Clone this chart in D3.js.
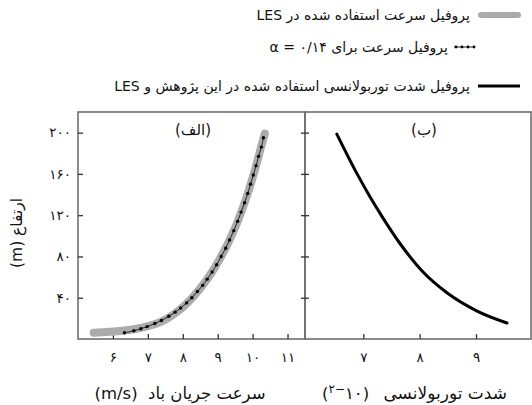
<!DOCTYPE html>
<html>
<head>
<meta charset="utf-8">
<script src="https://cdn.jsdelivr.net/npm/d3@7"></script>
<style>
  html, body { margin: 0; padding: 0; background: #fff; }
  svg { display: block; font-family: "DejaVu Sans", sans-serif; }
</style>
</head>
<body>
<svg id="chart" width="532" height="405"></svg>
<script>
// Wind speed profile used in LES (m/s vs height m)
const lesSpeed  = [5.45, 5.9, 6.4, 6.9, 7.4, 7.9, 8.3, 8.7, 9.1, 9.5, 9.8, 10.05, 10.25, 10.35];
const lesHeight = [6, 7, 8.5, 11.5, 17, 28, 41, 58, 80, 108, 135, 162, 187, 199];

// Power-law speed profile, alpha = 0.14
const powSpeed  = [6.33, 6.60, 6.80, 6.98, 7.20, 7.39, 7.60, 7.78, 7.94, 8.11, 8.26, 8.42, 8.57, 8.70, 8.84,
                   8.97, 9.10, 9.23, 9.34, 9.46, 9.57, 9.67, 9.77, 9.86, 9.94, 10.02, 10.10, 10.17, 10.25, 10.31];
const powHeight = [6, 8, 10, 12, 15, 18, 22, 26, 30, 35, 40, 46, 52, 58, 65,
                   72, 80, 88, 96, 105, 114, 123, 132, 141, 150, 159, 168, 177, 186, 195];

// Turbulence intensity profile (x 10^-2 vs height m)
const tiValue  = [6.53, 6.89, 7.11, 7.35, 7.67, 8.06, 8.49, 9.02, 9.55];
const tiHeight = [198.6, 160, 138.6, 117.2, 91.1, 64.9, 44.6, 27.1, 15.5];

// Tick values and labels
const heightTicks  = [40, 80, 120, 160, 200];
const heightLabels = ["۴۰", "۸۰", "۱۲۰", "۱۶۰", "۲۰۰"];
const speedTicks   = [6, 7, 8, 9, 10, 11];
const speedLabels  = ["۶", "۷", "۸", "۹", "۱۰", "۱۱"];
const tiTicks      = [7, 8, 9];
const tiLabels     = ["۷", "۸", "۹"];

const legendLabels = [
  "پروفیل سرعت استفاده شده در LES",
  "پروفیل سرعت برای α = ۰/۱۴",
  "پروفیل شدت توربولانسی استفاده شده در این پژوهش و LES"
];

const svg = d3.select("#chart");
const plotTop = 112, plotBottom = 339;
const leftX0 = 78, midX = 305, rightX1 = 531;
const frameColor = "#6e6e6e";

const y = d3.scaleLinear().domain([0, 220]).range([plotBottom, plotTop]);
const xL = d3.scaleLinear().domain([5, 11.5]).range([leftX0, midX]);
const xR = d3.scaleLinear().domain([5.965, 9.976]).range([midX, rightX1]);

// ---- Left panel: frame, ticks, labels
svg.append("rect").attr("x", leftX0).attr("y", plotTop).attr("width", midX - leftX0).attr("height", plotBottom - plotTop)
  .attr("fill", "none").attr("stroke", frameColor).attr("stroke-width", 1.6);

const axisLeft = d3.axisRight(y).tickValues(heightTicks).tickSize(5).tickFormat((d, i) => heightLabels[i]);
const gy = svg.append("g").attr("transform", `translate(${leftX0},0)`).call(axisLeft);
gy.select(".domain").remove();
gy.selectAll(".tick line").attr("stroke", "#333").attr("stroke-width", 1.3);
gy.selectAll(".tick text").attr("x", -7).attr("text-anchor", "end").attr("font-size", 13.5)
  .attr("fill", "#111").attr("font-family", "DejaVu Sans");

const axisBL = d3.axisTop(xL).tickValues(speedTicks).tickSize(5).tickFormat((d, i) => speedLabels[i]);
const gxl = svg.append("g").attr("transform", `translate(0,${plotBottom})`).call(axisBL);
gxl.select(".domain").remove();
gxl.selectAll(".tick line").attr("stroke", "#333").attr("stroke-width", 1.3);
gxl.selectAll(".tick text").attr("y", 23).attr("dy", "0").attr("font-size", 13.5)
  .attr("fill", "#111").attr("font-family", "DejaVu Sans");

// ---- Right panel
svg.append("rect").attr("x", midX).attr("y", plotTop).attr("width", rightX1 - midX).attr("height", plotBottom - plotTop)
  .attr("fill", "none").attr("stroke", frameColor).attr("stroke-width", 1.6);

const axisMid = d3.axisRight(y).tickValues(heightTicks).tickSize(8).tickFormat("");
const gym = svg.append("g").attr("transform", `translate(${midX - 4},0)`).call(axisMid);
gym.select(".domain").remove();
gym.selectAll(".tick line").attr("stroke", "#333").attr("stroke-width", 1.3);

const axisBR = d3.axisTop(xR).tickValues(tiTicks).tickSize(5).tickFormat((d, i) => tiLabels[i]);
const gxr = svg.append("g").attr("transform", `translate(0,${plotBottom})`).call(axisBR);
gxr.select(".domain").remove();
gxr.selectAll(".tick line").attr("stroke", "#333").attr("stroke-width", 1.3);
gxr.selectAll(".tick text").attr("y", 23).attr("dy", "0").attr("font-size", 13.5)
  .attr("fill", "#111").attr("font-family", "DejaVu Sans");

// ---- Curves
const lesData = lesSpeed.map((u, i) => [u, lesHeight[i]]);
const powData = powSpeed.map((u, i) => [u, powHeight[i]]);
const tiData  = tiValue.map((v, i) => [v, tiHeight[i]]);

const lineL = d3.line().x(d => xL(d[0])).y(d => y(d[1])).curve(d3.curveCatmullRom);
const lineR = d3.line().x(d => xR(d[0])).y(d => y(d[1])).curve(d3.curveMonotoneX);

svg.append("path").datum(lesData).attr("d", lineL).attr("fill", "none")
  .attr("stroke", "#ababab").attr("stroke-width", 8).attr("stroke-linecap", "round");

svg.append("path").datum(powData).attr("d", lineL).attr("fill", "none")
  .attr("stroke", "#111").attr("stroke-width", 0.9);
svg.append("g").selectAll("circle").data(powData).join("circle")
  .attr("cx", d => xL(d[0])).attr("cy", d => y(d[1])).attr("r", 1.7).attr("fill", "#000");

svg.append("path").datum(tiData).attr("d", lineR).attr("fill", "none")
  .attr("stroke", "#000").attr("stroke-width", 3).attr("stroke-linecap", "round");

// ---- Panel tags
svg.append("text").attr("x", 193).attr("y", 135).attr("text-anchor", "middle")
  .attr("font-size", 15).attr("fill", "#111").text("(الف)");
svg.append("text").attr("x", 424).attr("y", 135).attr("text-anchor", "middle")
  .attr("font-size", 15).attr("fill", "#111").text("(ب)");

// ---- Axis titles
svg.append("text").attr("transform", "translate(22,233) rotate(-90)").attr("text-anchor", "middle")
  .attr("direction", "rtl").attr("font-size", 15.5).attr("fill", "#111").text("ارتفاع (m)");

svg.append("text").attr("x", 180).attr("y", 399).attr("text-anchor", "middle")
  .attr("direction", "rtl").attr("font-size", 16.5).attr("fill", "#111").text("سرعت جریان باد\u00A0\u00A0(m/s)");

// turbulence title: Persian words plus the 10^-2 unit drawn left-to-right
const tiTitle = svg.append("g");
tiTitle.append("text").attr("x", 507).attr("y", 399).attr("text-anchor", "end")
  .attr("font-size", 17).attr("fill", "#111").attr("direction", "ltr").text("شدت توربولانسی");
const unit = tiTitle.append("text").attr("x", 322).attr("y", 399).attr("direction", "ltr")
  .attr("font-size", 16.5).attr("fill", "#111");
unit.append("tspan").text("(");
unit.append("tspan").attr("dy", -6).attr("font-size", 12).text("۲−");
unit.append("tspan").attr("dy", 6).text("۱۰)");

// ---- Legend
const legY = [15, 47, 86];
const lg = svg.append("g");
lg.append("line").attr("x1", 481).attr("x2", 518).attr("y1", legY[0]).attr("y2", legY[0])
  .attr("stroke", "#ababab").attr("stroke-width", 6).attr("stroke-linecap", "round");
lg.append("line").attr("x1", 454).attr("x2", 474).attr("y1", legY[1]).attr("y2", legY[1])
  .attr("stroke", "#111").attr("stroke-width", 0.9);
[456, 462, 468, 474].forEach(cx => lg.append("circle").attr("cx", cx).attr("cy", legY[1]).attr("r", 1.4).attr("fill", "#000"));
lg.append("line").attr("x1", 478).attr("x2", 520).attr("y1", legY[2]).attr("y2", legY[2])
  .attr("stroke", "#000").attr("stroke-width", 3);

const legTextX = [470, 448, 470];
legendLabels.forEach((t, i) => {
  lg.append("text").attr("x", legTextX[i]).attr("y", legY[i] + 5).attr("text-anchor", "start")
    .attr("direction", "rtl").attr("font-size", 14).attr("fill", "#111").text(t);
});
</script>
</body>
</html>
